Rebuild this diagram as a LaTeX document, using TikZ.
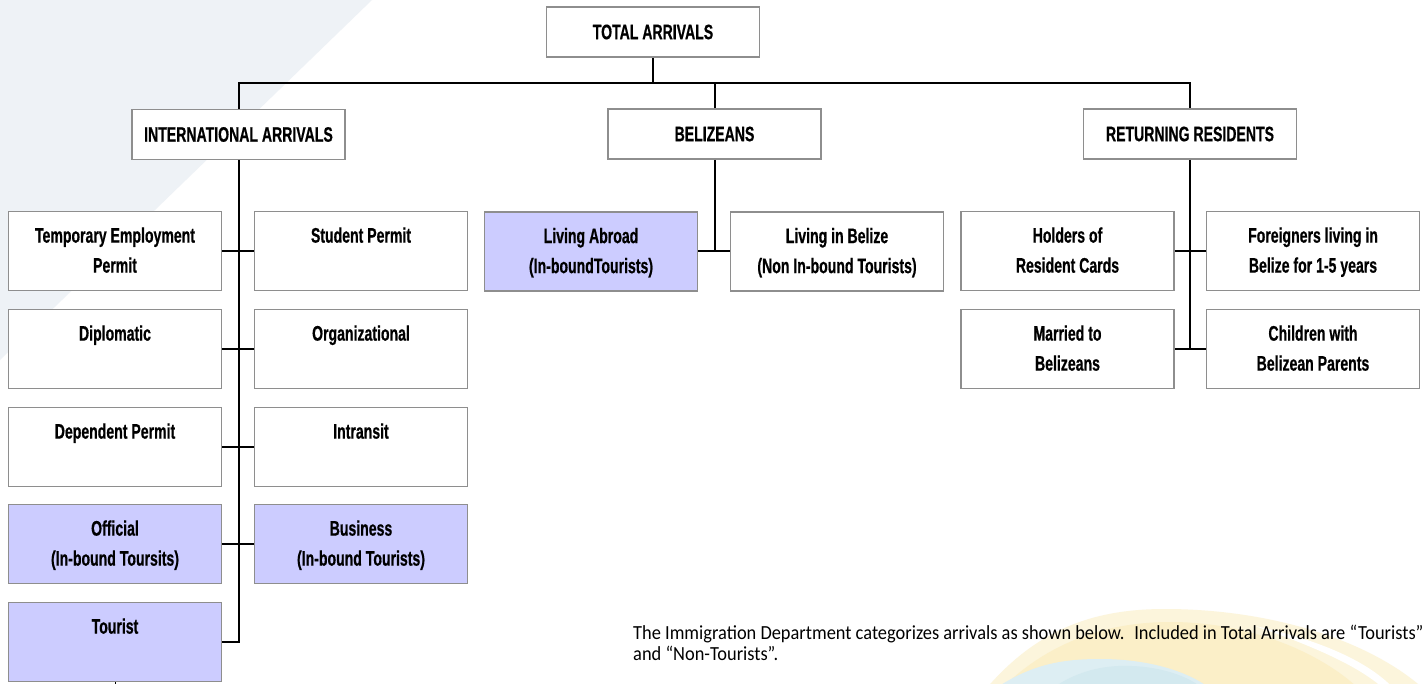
\documentclass[tikz,border=0pt]{standalone}
\usepackage{fontspec}
\usetikzlibrary{calc}
\newfontfamily\boxfont{Liberation Sans}[FakeStretch=0.67,FakeBold=0.6]
\newfontfamily\bodyfont{Carlito}[FakeStretch=0.92]
\definecolor{bggray}{HTML}{EEF2F6}
\definecolor{boxgray}{HTML}{8E8E8E}
\definecolor{lav}{HTML}{CCCCFF}
\definecolor{yelA}{HTML}{FCF5DC}
\definecolor{yelB}{HTML}{FBEFC8}
\definecolor{bluA}{HTML}{DDEEF3}
\definecolor{bluB}{HTML}{D3E9EF}
\newcommand\catbox[5]{%
  \node[box,#2] (#1) at (#3,#4) {};
  \node[txt] (#1-t) at ($(#1.north)+(0,16.5)$) {#5};}
\begin{document}
\begin{tikzpicture}[x=1pt,y=-1pt,
  box/.style={draw=boxgray, line width=1.6pt, fill=white, minimum width=213pt, minimum height=79pt, inner sep=0pt},
  hl/.style={fill=lav},
  head/.style={draw=boxgray, line width=1.6pt, fill=white, minimum width=213pt, minimum height=50pt, inner sep=0pt, font=\boxfont\bfseries\fontsize{21}{30}\selectfont},
  txt/.style={anchor=north, inner sep=0pt, align=center, font=\boxfont\bfseries\fontsize{21}{30}\selectfont},
  conn/.style={line width=2pt, black}]
\useasboundingbox (0,0) rectangle (1426,684);
\fill[white] (0,0) rectangle (1426,684);
% background decoration
\fill[bggray] (0,0) -- (372,0) -- (0,360) -- cycle;
\fill[yelA] (985,690) .. controls (1040,625) and (1100,609) .. (1165,609) .. controls (1270,609) and (1370,640) .. (1425,690) -- cycle;
\fill[yelB] (1000,690) .. controls (1050,640) and (1110,622) .. (1170,622) .. controls (1260,622) and (1330,660) .. (1360,690) -- cycle;
\fill[white] (1255,626) .. controls (1320,640) and (1370,662) .. (1395,690) -- (1385,690) .. controls (1360,666) and (1310,645) .. (1255,626) -- cycle;
\fill[bluA] (993,690) .. controls (1030,665) and (1060,659) .. (1100,659) .. controls (1150,659) and (1190,672) .. (1212,690) -- cycle;
\fill[bluB] (1050,690) .. controls (1080,668) and (1110,665) .. (1132,666) .. controls (1160,667) and (1190,676) .. (1204,690) -- cycle;

% heads
\node[head] (total) at (653,32) {TOTAL ARRIVALS};
\node[head] (intl) at (238.5,134.5) {INTERNATIONAL ARRIVALS};
\node[head] (bel) at (714.5,134) {BELIZEANS};
\node[head] (ret) at (1190,134) {RETURNING RESIDENTS};
\coordinate (bar) at (238.5,83);

% international arrivals
\catbox{tep}{}{115}{251}{Temporary Employment\\Permit}
\catbox{stu}{}{361}{251}{Student Permit}
\catbox{dip}{}{115}{349}{Diplomatic}
\catbox{org}{}{361}{349}{Organizational}
\catbox{dep}{}{115}{447}{Dependent Permit}
\catbox{int}{}{361}{447}{Intransit}
\catbox{off}{hl}{115}{544}{Official\\(In-bound Toursits)}
\catbox{bus}{hl}{361}{544}{Business\\(In-bound Tourists)}
\catbox{tou}{hl}{115}{642}{Tourist}

% belizeans
\catbox{abr}{hl}{591}{251.5}{Living Abroad\\(In-boundTourists)}
\catbox{liv}{}{837}{251.5}{Living in Belize\\(Non In-bound Tourists)}

% returning residents
\catbox{hol}{}{1067.5}{251}{Holders of\\Resident Cards}
\catbox{for}{}{1313}{251}{Foreigners living in\\Belize for 1-5 years}
\catbox{mar}{}{1067.5}{349}{Married to\\Belizeans}
\catbox{chi}{}{1313}{349}{Children with\\Belizean Parents}

% connectors
\draw[conn] (total.south) -- (total.south |- bar);
\draw[conn] (intl.north) -- (intl.north |- bar) -- (ret.north |- bar) -- (ret.north);
\draw[conn] (bel.north) -- (bel.north |- bar);
\draw[conn] (intl.south) -- (intl.south |- tou.east) -- (tou.east);
\draw[conn] (tep.east) -- (stu.west);
\draw[conn] (dip.east) -- (org.west);
\draw[conn] (dep.east) -- (int.west);
\draw[conn] (off.east) -- (bus.west);
\draw[conn] (bel.south) -- (bel.south |- abr.east);
\draw[conn] (abr.east) -- (liv.west);
\draw[conn] (ret.south) -- (ret.south |- mar.east);
\draw[conn] (hol.east) -- (for.west);
\draw[conn] (mar.east) -- (chi.west);
\draw[line width=1pt] (tou.south) -- ++(0,6);

% note
\node[anchor=north west, inner sep=0pt, align=left, font=\bodyfont\fontsize{20}{21}\selectfont] (note) at (633,625)
  {The Immigration Department categorizes arrivals as shown below.~ Included in Total Arrivals are “Tourists”\\and “Non-Tourists”.};
\end{tikzpicture}
\end{document}
